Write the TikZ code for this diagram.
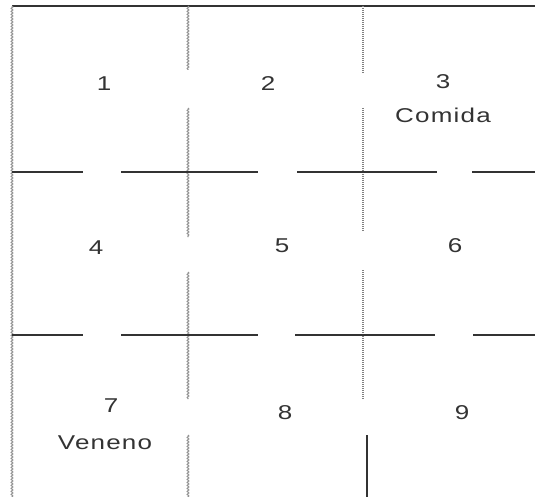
\documentclass[tikz,border=0pt]{standalone}
\usepackage{fontspec}
\setmainfont{Liberation Sans}
\newfontfamily\spaced[FakeStretch=1.3,LetterSpace=6]{Liberation Sans}
\usetikzlibrary{decorations.pathmorphing}
\begin{document}
\begin{tikzpicture}[x=1pt,y=-1pt,
  wall/.style={black!80,line width=1.6pt},
  wavy/.style={gray!85,line width=1.1pt,decorate,decoration={snake,amplitude=0.8pt,segment length=3pt}},
  dotwall/.style={gray,line width=1.2pt,dash pattern=on 1pt off 1pt},
  lbl/.style={font=\fontsize{20}{24}\selectfont\spaced,text=black!80,inner sep=0pt}]
\useasboundingbox (0,0) rectangle (535,497);
% coordinates
\coordinate (tl) at (12,6);
\coordinate (tr) at (535,6);
\coordinate (bl) at (12,497);
% outer walls
\draw[wall] (tl) -- (tr);
\draw[wavy] (tl) -- (bl);
% vertical wall x=188
\coordinate (a1) at (188,6); \coordinate (a2) at (188,70);
\coordinate (a3) at (188,108); \coordinate (a4) at (188,237);
\coordinate (a5) at (188,272); \coordinate (a6) at (188,399);
\coordinate (a7) at (188,435); \coordinate (a8) at (188,497);
\draw[wavy] (a1) -- (a2);
\draw[wavy] (a3) -- (a4);
\draw[wavy] (a5) -- (a6);
\draw[wavy] (a7) -- (a8);
% vertical wall x=363
\coordinate (b1) at (363,6); \coordinate (b2) at (363,73);
\coordinate (b3) at (363,108); \coordinate (b4) at (363,232);
\coordinate (b5) at (363,270); \coordinate (b6) at (363,399);
\coordinate (b7) at (367,435); \coordinate (b8) at (367,497);
\draw[dotwall] (b1) -- (b2);
\draw[dotwall] (b3) -- (b4);
\draw[dotwall] (b5) -- (b6);
\draw[wall] (b7) -- (b8);
% horizontal wall y=172
\coordinate (h1) at (12,172); \coordinate (h2) at (83,172);
\coordinate (h3) at (121,172); \coordinate (h4) at (258,172);
\coordinate (h5) at (297,172); \coordinate (h6) at (437,172);
\coordinate (h7) at (472,172); \coordinate (h8) at (535,172);
\draw[wall] (h1) -- (h2);
\draw[wall] (h3) -- (h4);
\draw[wall] (h5) -- (h6);
\draw[wall] (h7) -- (h8);
% horizontal wall y=335
\coordinate (g1) at (12,335); \coordinate (g2) at (83,335);
\coordinate (g3) at (121,335); \coordinate (g4) at (258,335);
\coordinate (g5) at (295,335); \coordinate (g6) at (435,335);
\coordinate (g7) at (473,335); \coordinate (g8) at (535,335);
\draw[wall] (g1) -- (g2);
\draw[wall] (g3) -- (g4);
\draw[wall] (g5) -- (g6);
\draw[wall] (g7) -- (g8);
% labels
\node[lbl] (n1) at (104,84) {1};
\node[lbl] (n2) at (268,84) {2};
\node[lbl] (n3) at (443,82) {3};
\node[lbl] (c3) at (443,115) {Comida};
\node[lbl] (n4) at (96,248) {4};
\node[lbl] (n5) at (282,246) {5};
\node[lbl] (n6) at (455,246) {6};
\node[lbl] (n7) at (111,406) {7};
\node[lbl] (v7) at (105,443) {Veneno};
\node[lbl] (n8) at (285,413) {8};
\node[lbl] (n9) at (462,413) {9};
\end{tikzpicture}
\end{document}
